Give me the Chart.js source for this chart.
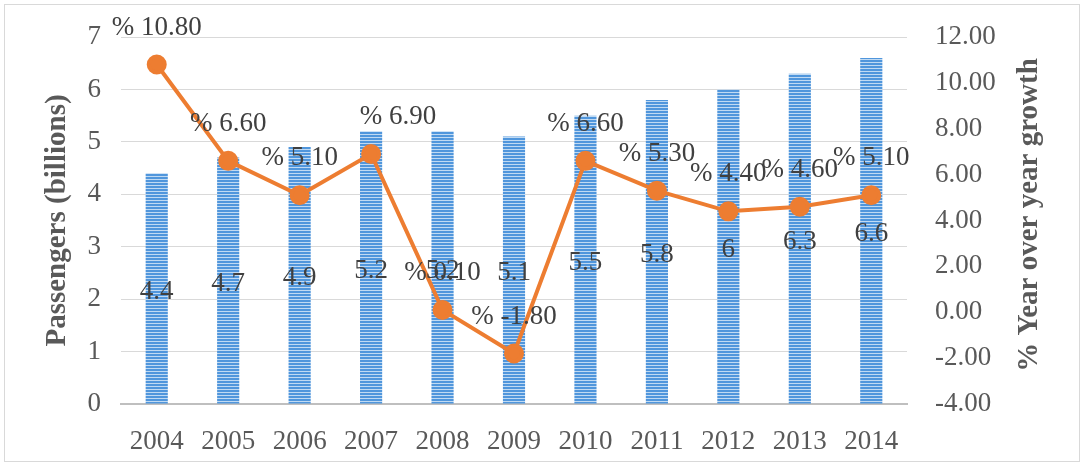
<!DOCTYPE html>
<html>
<head>
<meta charset="utf-8">
<script src="https://cdn.jsdelivr.net/npm/chart.js@4.4.1/dist/chart.umd.min.js"></script>
<style>
  html, body { margin: 0; padding: 0; background: #fff; }
  #wrap { position: relative; width: 1086px; height: 466px; }
  #frame { position: absolute; left: 4px; top: 4px; width: 1074px; height: 456px; border: 1px solid #d9d9d9; }
  #chart { position: absolute; left: 0; top: 0; }
</style>
</head>
<body>
<div id="wrap">
  <div id="frame"></div>
  <canvas id="chart" width="1086" height="466"></canvas>
</div>
<script>
const years = ['2004','2005','2006','2007','2008','2009','2010','2011','2012','2013','2014'];
const passengers = [4.4, 4.7, 4.9, 5.2, 5.2, 5.1, 5.5, 5.8, 6, 6.3, 6.6];
const growth = [10.8, 6.6, 5.1, 6.9, 0.1, -1.8, 6.6, 5.3, 4.4, 4.6, 5.1];

const FONT = '"Liberation Serif", "Times New Roman", serif';
const TXT = '#595959';

// striped fill for the bars
function stripes(){
  const c = document.createElement('canvas');
  c.width = 4; c.height = 3;
  const g = c.getContext('2d');
  g.fillStyle = '#5096dc'; g.fillRect(0,0,4,2);
  g.fillStyle = '#c0daf3'; g.fillRect(0,2,4,1);
  return g.createPattern(c, 'repeat');
}
const ctxMain = document.getElementById('chart').getContext('2d');

const labelPlugin = {
  id: 'labels',
  afterDatasetsDraw(chart){
    const ctx = chart.ctx;
    ctx.save();
    ctx.font = '27px ' + FONT;
    ctx.fillStyle = '#404040';
    ctx.textAlign = 'center';
    ctx.textBaseline = 'middle';
    // dataset 1 = bars, dataset 0 = line
    chart.getDatasetMeta(1).data.forEach((el,i)=>{
      const p = el.getProps(['x','y','base'], true);
      ctx.fillText(String(passengers[i]), p.x, (p.y + p.base)/2 + 3);
    });
    chart.getDatasetMeta(0).data.forEach((el,i)=>{
      const dx = i === 3 ? 27 : 0;
      ctx.fillText('% ' + growth[i].toFixed(2), el.x + dx, el.y - 37);
    });
    // right axis title, reads bottom to top
    ctx.font = 'bold 29px ' + FONT;
    ctx.fillStyle = TXT;
    ctx.translate(1030, 215);
    ctx.rotate(-Math.PI/2);
    ctx.fillText('% Year over year growth', 0, 0);
    ctx.restore();
  }
};

new Chart(ctxMain, {
  data: {
    labels: years,
    datasets: [
      {
        type: 'line', label: 'growth', data: growth, yAxisID: 'y1',
        borderColor: '#ed7d31', backgroundColor: '#ed7d31', borderWidth: 4,
        pointRadius: 8, pointHoverRadius: 8, tension: 0, order: 0
      },
      {
        type: 'bar', label: 'passengers', data: passengers, yAxisID: 'y',
        backgroundColor: stripes(), barPercentage: 0.62, categoryPercentage: 0.5, order: 1
      }
    ]
  },
  options: {
    responsive: false,
    animation: false,
    layout: { padding: { left: 0, right: 0, top: 37, bottom: 0 } },
    plugins: { legend: { display: false }, tooltip: { enabled: false } },
    scales: {
      x: {
        grid: { display: false, drawTicks: false },
        border: { color: '#bfbfbf', width: 2 },
        ticks: { color: TXT, font: { family: FONT, size: 27 }, padding: 22 },
        afterFit(s){ s.height = 62; }
      },
      y: {
        position: 'left', min: 0, max: 7,
        grid: { color: '#d9d9d9', drawTicks: false },
        border: { display: false },
        ticks: { stepSize: 1, color: TXT, font: { family: FONT, size: 27 }, padding: 20 },
        title: { display: true, text: 'Passengers (billions)', color: TXT, font: { family: FONT, size: 29, weight: 'bold' }, padding: { top: 40, bottom: 0 } },
        afterFit(s){ s.width = 121; s.paddingTop = 0; s.paddingBottom = 0; }
      },
      y1: {
        position: 'right', min: -4, max: 12,
        grid: { display: false, drawTicks: false },
        border: { display: false },
        ticks: { stepSize: 2, color: TXT, font: { family: FONT, size: 27 }, padding: 28, callback: v => v.toFixed(2) },
        afterFit(s){ s.width = 179; s.paddingTop = 0; s.paddingBottom = 0; }
      }
    }
  },
  plugins: [labelPlugin]
});
</script>
</body>
</html>
